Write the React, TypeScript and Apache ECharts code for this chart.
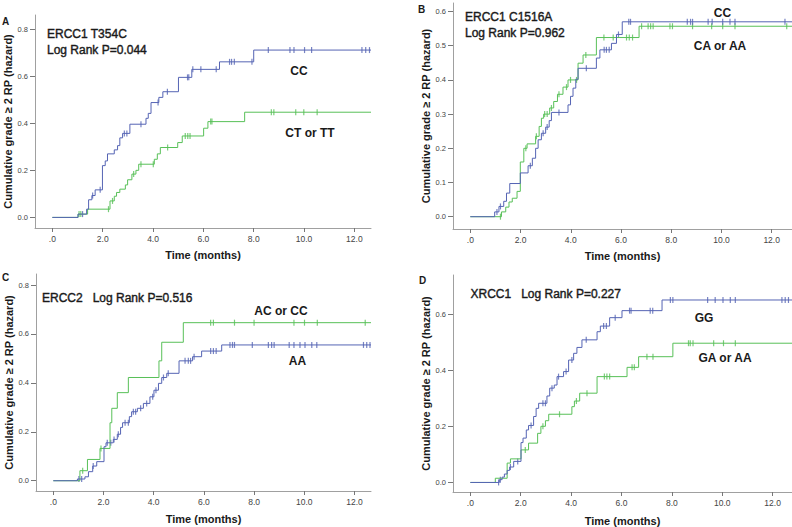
import React, { useEffect, useRef } from "react";
import * as echarts from "echarts";

const FONT = '"Liberation Sans", Arial, Helvetica, sans-serif';
const BLUE = "#5564b4";
const GREEN = "#58c058";
const AXIS = "#a0a0a0";

// ---------- Panel A: ERCC1 T354C ----------
const aCcTimes = [0, 1.02, 1.36, 1.44, 1.57, 1.7, 1.99, 2.1, 2.19, 2.46, 2.59, 2.68, 2.79, 3.08, 3.72, 3.81, 3.92, 4.23, 4.39, 5.01, 5.54, 6.64, 8.0];
const aCcValues = [0, 0.014, 0.035, 0.075, 0.093, 0.117, 0.22, 0.24, 0.27, 0.287, 0.305, 0.338, 0.357, 0.396, 0.421, 0.442, 0.488, 0.51, 0.534, 0.595, 0.629, 0.661, 0.711];
const aCcCensored = [1.2, 1.6, 1.9, 2.86, 2.96, 3.52, 4.2, 4.57, 5.37, 5.42, 5.58, 5.9, 6.51, 7.04, 7.12, 7.23, 7.93, 8.58, 9.44, 9.6, 10.02, 10.3, 12.3, 12.45, 12.6];
const aCtTimes = [0, 1.02, 1.4, 2.29, 2.46, 2.55, 2.68, 2.9, 2.99, 3.16, 3.32, 3.43, 4.05, 4.17, 4.29, 4.98, 5.16, 6.01, 6.18, 7.64];
const aCtValues = [0, 0.014, 0.035, 0.07, 0.09, 0.106, 0.12, 0.138, 0.16, 0.184, 0.2, 0.226, 0.247, 0.27, 0.297, 0.318, 0.346, 0.379, 0.407, 0.447];
const aCtCensored = [1.06, 1.13, 2.23, 2.39, 3.23, 3.52, 4.01, 4.58, 5.28, 5.38, 5.47, 6.29, 6.34, 8.7, 8.8, 9.67, 9.99, 10.52];

// ---------- Panel B: ERCC1 C1516A ----------
const bCcTimes = [0, 0.97, 1.14, 1.33, 1.44, 1.57, 1.99, 2.3, 2.47, 2.6, 2.7, 2.83, 3.0, 3.14, 3.23, 3.89, 3.99, 4.09, 4.2, 4.29, 5.02, 5.16, 5.62, 5.82, 6.05];
const bCcValues = [0, 0.014, 0.03, 0.045, 0.069, 0.097, 0.128, 0.149, 0.171, 0.2, 0.225, 0.244, 0.262, 0.281, 0.305, 0.327, 0.352, 0.376, 0.402, 0.434, 0.464, 0.488, 0.507, 0.533, 0.57];
const bCcCensored = [1.06, 1.2, 2.39, 2.9, 3.06, 3.53, 4.62, 5.33, 5.42, 5.53, 5.9, 6.31, 6.38, 8.64, 8.77, 8.85, 9.47, 9.63, 10.05, 10.34, 10.54, 12.53];
const bCaTimes = [0, 1.24, 1.41, 1.54, 1.67, 1.86, 1.99, 2.13, 2.26, 2.6, 2.74, 2.83, 2.92, 3.16, 3.32, 3.47, 3.69, 3.89, 4.29, 4.49, 5.02, 6.72];
const bCaValues = [0, 0.014, 0.028, 0.043, 0.054, 0.074, 0.16, 0.2, 0.213, 0.235, 0.264, 0.288, 0.3, 0.318, 0.337, 0.358, 0.379, 0.4, 0.449, 0.473, 0.524, 0.557];
const bCaCensored = [1.2, 2.21, 2.63, 2.96, 3.06, 3.23, 3.53, 3.83, 3.99, 4.23, 4.6, 5.32, 5.69, 6.22, 6.33, 6.46, 6.82, 7.08, 7.18, 7.28, 7.95, 8.05, 8.85, 9.61, 10.05, 10.54, 12.6];

// ---------- Panel C: ERCC2 ----------
const cAcTimes = [0, 1.06, 1.36, 1.86, 2.26, 2.33, 2.55, 2.99, 4.21, 4.32, 5.18];
const cAcValues = [0, 0.041, 0.087, 0.132, 0.237, 0.296, 0.36, 0.422, 0.49, 0.566, 0.646];
const cAcCensored = [1.17, 1.9, 6.27, 6.38, 7.22, 8.0, 9.59, 10.01, 10.52, 12.43];
const cAaTimes = [0, 0.96, 1.26, 1.4, 1.57, 1.73, 2.02, 2.1, 2.39, 2.55, 2.68, 2.76, 3.03, 3.12, 3.35, 3.59, 3.85, 4.01, 4.19, 4.32, 4.52, 5.01, 5.55, 5.91, 6.71];
const cAaValues = [0, 0.007, 0.016, 0.037, 0.06, 0.078, 0.139, 0.155, 0.169, 0.19, 0.218, 0.237, 0.262, 0.282, 0.296, 0.316, 0.343, 0.37, 0.398, 0.422, 0.439, 0.49, 0.507, 0.53, 0.555];
const cAaCensored = [1.02, 1.13, 1.59, 2.15, 2.29, 2.42, 2.59, 2.86, 2.99, 3.19, 3.28, 3.48, 3.72, 3.96, 4.09, 4.39, 4.58, 5.25, 5.38, 5.47, 5.61, 6.27, 6.38, 6.49, 7.04, 7.14, 7.22, 7.93, 8.57, 8.7, 8.8, 9.4, 9.59, 9.83, 10.03, 10.3, 10.5, 12.36, 12.49, 12.62];

// ---------- Panel D: XRCC1 ----------
const dGgTimes = [0, 1.15, 1.26, 1.35, 1.46, 1.56, 1.72, 2.01, 2.09, 2.22, 2.31, 2.51, 2.61, 2.71, 3.04, 3.15, 3.33, 3.44, 3.7, 3.9, 4.1, 4.23, 4.43, 5.03, 5.16, 5.53, 6.02, 7.61];
const dGgValues = [0, 0.01, 0.019, 0.03, 0.043, 0.055, 0.075, 0.142, 0.158, 0.187, 0.203, 0.235, 0.264, 0.282, 0.308, 0.336, 0.347, 0.377, 0.395, 0.436, 0.46, 0.481, 0.508, 0.537, 0.557, 0.587, 0.612, 0.65];
const dGgCensored = [1.12, 1.19, 1.59, 1.88, 2.41, 2.88, 2.98, 3.24, 3.5, 3.8, 4.03, 4.6, 5.29, 5.4, 5.75, 6.32, 6.38, 7.14, 7.24, 7.94, 8.04, 9.42, 9.72, 10.03, 10.32, 10.52, 12.37, 12.5, 12.63];
const dGaTimes = [0, 0.99, 1.46, 1.59, 2.01, 2.31, 2.67, 2.8, 2.98, 3.11, 4.03, 4.13, 4.34, 5.03, 6.22, 6.68, 8.04];
const dGaValues = [0, 0.015, 0.069, 0.084, 0.116, 0.14, 0.175, 0.2, 0.22, 0.243, 0.27, 0.29, 0.318, 0.377, 0.41, 0.448, 0.496];
const dGaCensored = [2.18, 2.88, 3.54, 4.21, 4.63, 5.32, 5.42, 5.53, 6.42, 6.51, 7.01, 7.25, 8.66, 8.73, 8.84, 9.66, 10.05, 10.52];

// ---------- Axis ticks ----------
const xTicks = [0, 2, 4, 6, 8, 10, 12];
const yTicksA = [0, 0.2, 0.4, 0.6, 0.8];
const yTicksB = [0, 0.1, 0.2, 0.3, 0.4, 0.5, 0.6];
const yTicksC = [0, 0.2, 0.4, 0.6, 0.8];
const yTicksD = [0, 0.2, 0.4, 0.6];

const xTitle = "Time (months)";
const yTitle = "Cumulative grade \u2265 2 RP (hazard)";

function stepAt(times: number[], values: number[], t: number) {
  let v = values[0];
  for (let i = 0; i < times.length; i++) if (times[i] <= t) v = values[i];
  return v;
}

const panels = [
  {
    grid: { left: 35, top: 15, width: 336, height: 213 },
    xRange: [-0.69, 12.66], yRange: [-0.045, 0.86], yTicks: yTicksA, xGap: 21, yGap: 19,
    curves: [
      { t: aCtTimes, v: aCtValues, c: aCtCensored, color: GREEN },
      { t: aCcTimes, v: aCcValues, c: aCcCensored, color: BLUE },
    ],
  },
  {
    grid: { left: 453, top: 3, width: 339, height: 226 },
    xRange: [-0.69, 12.81], yRange: [-0.036, 0.625], yTicks: yTicksB, xGap: 21, yGap: 21,
    curves: [
      { t: bCaTimes, v: bCaValues, c: bCaCensored, color: GREEN },
      { t: bCcTimes, v: bCcValues, c: bCcCensored, color: BLUE },
    ],
  },
  {
    grid: { left: 36, top: 274, width: 335, height: 217 },
    xRange: [-0.69, 12.66], yRange: [-0.042, 0.845], yTicks: yTicksC, xGap: 22, yGap: 22,
    curves: [
      { t: cAcTimes, v: cAcValues, c: cAcCensored, color: GREEN },
      { t: cAaTimes, v: cAaValues, c: cAaCensored, color: BLUE },
    ],
  },
  {
    grid: { left: 453, top: 275, width: 339, height: 217 },
    xRange: [-0.69, 12.77], yRange: [-0.034, 0.739], yTicks: yTicksD, xGap: 23, yGap: 21,
    curves: [
      { t: dGaTimes, v: dGaValues, c: dGaCensored, color: GREEN },
      { t: dGgTimes, v: dGgValues, c: dGgCensored, color: BLUE },
    ],
  },
];

const texts = [
  { t: "A", x: 2, y: 21, size: 10, bold: true, medium: false, align: "left" },
  { t: "B", x: 418, y: 9, size: 10, bold: true, medium: false, align: "left" },
  { t: "C", x: 2, y: 277, size: 10, bold: true, medium: false, align: "left" },
  { t: "D", x: 419, y: 280, size: 10, bold: true, medium: false, align: "left" },
  { t: "ERCC1 T354C", x: 47, y: 33.5, size: 12, bold: false, medium: true, align: "left" },
  { t: "Log Rank P=0.044", x: 47, y: 49.5, size: 12, bold: false, medium: true, align: "left" },
  { t: "ERCC1 C1516A", x: 465, y: 17, size: 12, bold: false, medium: true, align: "left" },
  { t: "Log Rank P=0.962", x: 465, y: 33, size: 12, bold: false, medium: true, align: "left" },
  { t: "ERCC2   Log Rank P=0.516", x: 42, y: 297.5, size: 12, bold: false, medium: true, align: "left" },
  { t: "XRCC1   Log Rank P=0.227", x: 470.5, y: 293.5, size: 12, bold: false, medium: true, align: "left" },
  { t: "CC", x: 299, y: 71, size: 12, bold: true, medium: false, align: "center" },
  { t: "CT or TT", x: 310, y: 133, size: 12, bold: true, medium: false, align: "center" },
  { t: "CC", x: 722.5, y: 12.5, size: 12, bold: true, medium: false, align: "center" },
  { t: "CA or AA", x: 720, y: 45.5, size: 12, bold: true, medium: false, align: "center" },
  { t: "AC or CC", x: 281, y: 310.5, size: 12, bold: true, medium: false, align: "center" },
  { t: "AA", x: 297.5, y: 361, size: 12, bold: true, medium: false, align: "center" },
  { t: "GG", x: 704, y: 317.5, size: 12, bold: true, medium: false, align: "center" },
  { t: "GA or AA", x: 725, y: 357.5, size: 12, bold: true, medium: false, align: "center" },
];

function buildOption() {
  const grid: any[] = [];
  const xAxis: any[] = [];
  const yAxis: any[] = [];
  const series: any[] = [];
  panels.forEach((p, i) => {
    grid.push({ ...p.grid, outerBoundsMode: "none", containLabel: false });
    xAxis.push({
      type: "value",
      gridIndex: i,
      min: p.xRange[0],
      max: p.xRange[1],
      axisLine: { show: true, onZero: false, lineStyle: { color: AXIS, width: 1 } },
      axisTick: { show: true, length: 4, customValues: xTicks, lineStyle: { color: "#777" } },
      axisLabel: {
        customValues: xTicks,
        formatter: (v: number) => (v === 0 ? ".0" : v.toFixed(1)),
        fontSize: 8.5,
        color: "#444",
        margin: 6,
        fontFamily: FONT,
      },
      splitLine: { show: false },
      name: xTitle,
      nameLocation: "middle",
      nameGap: p.xGap,
      nameTextStyle: { fontWeight: "bold", fontSize: 11, color: "#1a1a1a", fontFamily: FONT },
    });
    yAxis.push({
      type: "value",
      gridIndex: i,
      min: p.yRange[0],
      max: p.yRange[1],
      axisLine: { show: true, onZero: false, lineStyle: { color: AXIS, width: 1 } },
      axisTick: { show: true, length: 5, customValues: p.yTicks, lineStyle: { color: "#777" } },
      axisLabel: {
        customValues: p.yTicks,
        formatter: (v: number) => v.toFixed(1),
        fontSize: 7.5,
        color: "#444",
        margin: 7,
        fontFamily: FONT,
      },
      splitLine: { show: false },
      name: yTitle,
      nameLocation: "middle",
      nameRotate: 90,
      nameGap: p.yGap,
      nameTextStyle: { fontWeight: "bold", fontSize: 11, color: "#1a1a1a", fontFamily: FONT },
    });
    p.curves.forEach((c) => {
      const data = c.t.map((t, k) => [t, c.v[k]]);
      data.push([p.xRange[1], c.v[c.v.length - 1]]);
      series.push({
        type: "line",
        xAxisIndex: i,
        yAxisIndex: i,
        step: "end",
        data,
        symbol: "none",
        showSymbol: false,
        silent: true,
        lineStyle: { color: c.color, width: 1 },
      });
      series.push({
        type: "scatter",
        xAxisIndex: i,
        yAxisIndex: i,
        data: c.c.map((t) => [t, stepAt(c.t, c.v, t)]),
        symbol: "rect",
        symbolSize: [1.2, 6],
        silent: true,
        itemStyle: { color: c.color },
      });
    });
  });
  const graphic = texts.map((g) => ({
    type: "text",
    x: g.x,
    y: g.y,
    silent: true,
    style: {
      text: g.t,
      fill: "#1a1a1a",
      font: `${g.bold ? "bold " : ""}${g.size}px ${FONT}`,
      align: g.align,
      verticalAlign: "middle",
      stroke: g.medium ? "#1a1a1a" : undefined,
      lineWidth: g.medium ? 0.4 : 0,
    },
  }));
  return {
    animation: false,
    backgroundColor: "#ffffff",
    grid,
    xAxis,
    yAxis,
    series,
    graphic,
  };
}

export default function App() {
  const ref = useRef<HTMLDivElement>(null);
  useEffect(() => {
    document.body.style.margin = "0";
    const chart = echarts.init(ref.current!, undefined, { renderer: "svg" });
    chart.setOption(buildOption() as any);
    return () => chart.dispose();
  }, []);
  return <div ref={ref} style={{ width: 792, height: 527, position: "absolute", left: 0, top: 0 }} />;
}
